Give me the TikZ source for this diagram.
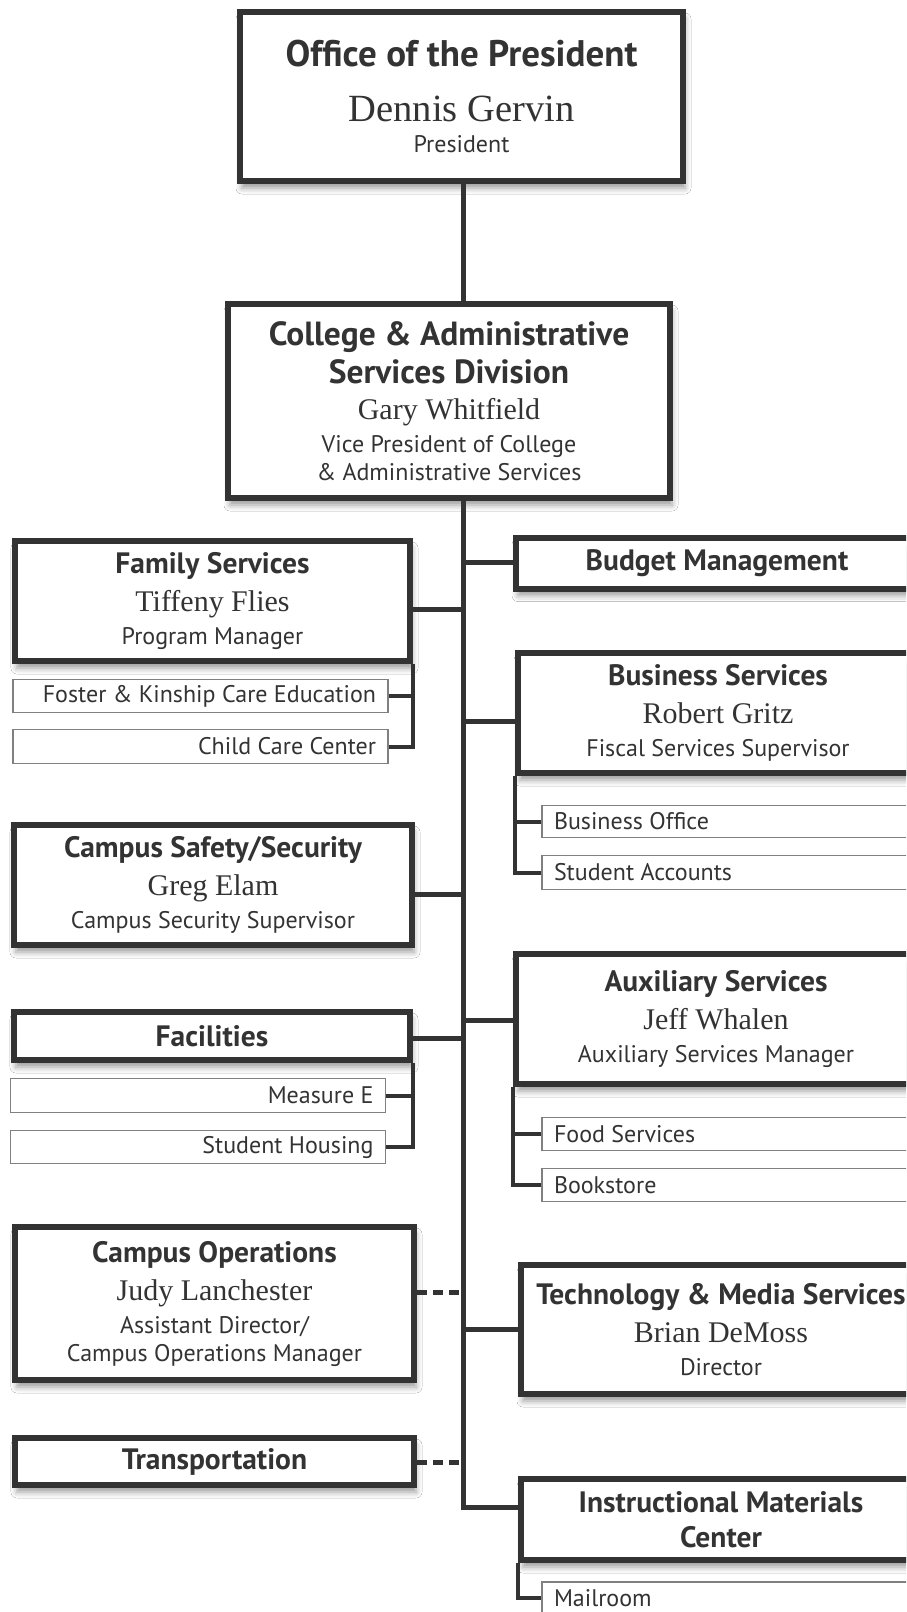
\documentclass[tikz,border=0pt]{standalone}
\usepackage{fontspec}
\setmainfont{PT Sans}
\newfontfamily\namefont{Liberation Serif}
\usetikzlibrary{shadows.blur}
\definecolor{ink}{HTML}{333333}
\definecolor{subgray}{HTML}{808080}
\newcommand{\hdf}{\fontsize{29.5}{33}\selectfont\bfseries}
\newcommand{\bighdf}{\fontsize{33.5}{33}\selectfont\bfseries}
\newcommand{\nmf}{\namefont\fontsize{30}{33}\selectfont}
\tikzstyle{mbox} = [rectangle, draw=ink, line width=6pt, fill=white, text=ink, inner sep=0pt, align=flush center, font=\fontsize{24}{33}\selectfont, blur shadow={shadow xshift=2pt, shadow yshift=-7pt, shadow blur radius=6pt, shadow opacity=40}]
\tikzstyle{lsub} = [rectangle, draw=subgray, line width=1.3pt, fill=white, text=ink, inner xsep=12pt, inner ysep=0pt, text width=351pt, align=flush right, font=\fontsize{24}{33}\selectfont]
\tikzstyle{rsub} = [lsub, text width=376pt, align=flush left]
\tikzstyle{line} = [draw=ink, line width=5pt]
\tikzstyle{subline} = [draw=ink, line width=4pt]
\tikzstyle{dline} = [draw=ink, line width=5pt, dash pattern=on 10pt off 6pt]

\begin{document}
\begin{tikzpicture}[x=1pt, y=-1pt]
				\path [use as bounding box] (0,0) rectangle (906,1612);
				\clip (0,0) rectangle (906,1612);
				\fill [white] (0,0) rectangle (906,1612);

				% top of the chart
				\node [mbox, minimum width=443pt, minimum height=169pt] (pres) at (461.5,96.5) {{\fontsize{37}{33}\selectfont\bfseries Office of the President}\\[22pt] {\namefont\fontsize{38.5}{38}\selectfont Dennis Gervin}\\[-2pt] President};
				\node [mbox, minimum width=442pt, minimum height=194pt] (col) at (449,401) {{\bighdf College \& Administrative}\\[5pt] {\bighdf Services Division}\\[3pt] {\nmf Gary Whitfield}\\ Vice President of College\\[-5pt] \& Administrative Services};

				% left column
				\node [mbox, minimum width=395pt, minimum height=120pt] (fam) at (212.5,601) {{\hdf Family Services}\\[5pt] {\nmf Tiffeny Flies}\\ Program Manager};
				\node [lsub, minimum height=33pt] (foster) at (200.5,696) {Foster \& Kinship Care Education};
				\node [lsub, minimum height=34pt] (child) at (200.5,746.5) {Child Care Center};
				\node [mbox, minimum width=398pt, minimum height=120pt] (css) at (213,885) {{\hdf Campus Safety/Security}\\[5pt] {\nmf Greg Elam}\\ Campus Security Supervisor};
				\node [mbox, minimum width=396pt, minimum height=48pt] (fac) at (212,1036) {\hdf Facilities};
				\node [lsub, minimum height=34pt] (meas) at (198,1095.5) {Measure E};
				\node [lsub, minimum height=33pt] (house) at (198,1147) {Student Housing};
				\node [mbox, minimum width=399pt, minimum height=153pt] (ops) at (214.5,1303.5) {{\hdf Campus Operations}\\[5pt] {\nmf Judy Lanchester}\\ Assistant Director/\\[-5pt] Campus Operations Manager};
				\node [mbox, minimum width=399pt, minimum height=47pt] (trans) at (214.5,1461.5) {\hdf Transportation};

				% right column
				\node [mbox, minimum width=402pt, minimum height=51pt] (bud) at (717,563) {\hdf Budget Management};
				\node [mbox, minimum width=400pt, minimum height=120pt] (bus) at (718,713) {{\hdf Business Services}\\[5pt] {\nmf Robert Gritz}\\ Fiscal Services Supervisor};
				\node [rsub, minimum height=32pt] (bo) at (742,821.5) {Business Office};
				\node [rsub, minimum height=34pt] (sa) at (742,872.5) {Student Accounts};
				\node [mbox, minimum width=400pt, minimum height=130pt] (aux) at (716,1019) {{\hdf Auxiliary Services}\\[5pt] {\nmf Jeff Whalen}\\ Auxiliary Services Manager};
				\node [rsub, minimum height=33pt] (food) at (742,1134) {Food Services};
				\node [rsub, minimum height=33pt] (book) at (742,1185) {Bookstore};
				\node [mbox, minimum width=400pt, minimum height=129pt] (tech) at (721,1329.5) {{\hdf Technology \& Media Services}\\[5pt] {\nmf Brian DeMoss}\\ Director};
				\node [mbox, minimum width=400pt, minimum height=81pt] (imc) at (721,1519.5) {{\hdf Instructional Materials}\\[2pt] {\hdf Center}};
				\node [rsub, minimum height=32pt] (mail) at (742,1598) {Mailroom};

				% points on the trunk
				\coordinate (t0) at (463,0);
				\coordinate (tbud) at (463,562);
				\coordinate (tfam) at (463,609);
				\coordinate (tbus) at (463,721);
				\coordinate (tcss) at (463,894);
				\coordinate (taux) at (463,1020);
				\coordinate (tfac) at (463,1038);
				\coordinate (tops) at (463,1292);
				\coordinate (ttech) at (463,1329);
				\coordinate (ttrans) at (463,1462);
				\coordinate (tend) at (463,1507);

				\path [line] (pres.south -| t0) -- (col.north -| t0);
				\path [line] (col.south -| t0) -- (tend) -- (tend -| imc.west);
				\path [line] (tbud) -- (tbud -| bud.west);
				\path [line] (tfam) -- (tfam -| fam.east);
				\path [line] (tbus) -- (tbus -| bus.west);
				\path [line] (tcss) -- (tcss -| css.east);
				\path [line] (taux) -- (taux -| aux.west);
				\path [line] (tfac) -- (tfac -| fac.east);
				\path [line] (ttech) -- (ttech -| tech.west);
				\path [dline] (ops.east |- tops) -- (tops);
				\path [dline] (trans.east |- ttrans) -- (ttrans);

				\path [subline] (fam.south east) |- (child.east);
				\path [subline] (foster.east) -- (foster.east -| fam.south east);
				\path [subline] (fac.south east) |- (house.east);
				\path [subline] (meas.east) -- (meas.east -| fac.south east);
				\path [subline] (bus.south west) |- (sa.west);
				\path [subline] (bo.west) -- (bo.west -| bus.south west);
				\path [subline] (aux.south west) |- (book.west);
				\path [subline] (food.west) -- (food.west -| aux.south west);
				\path [subline] (imc.south west) |- (mail.west);
\end{tikzpicture}
\end{document}
